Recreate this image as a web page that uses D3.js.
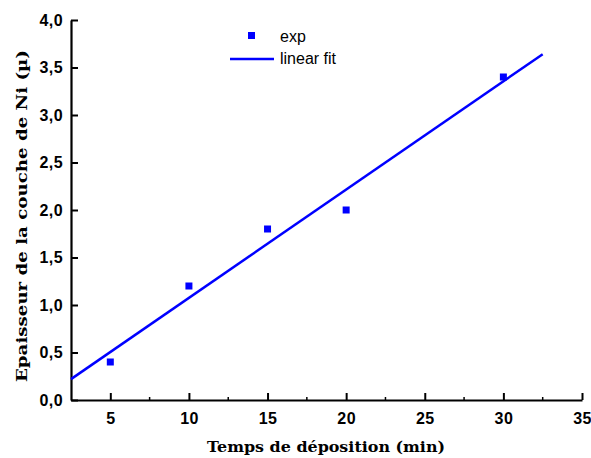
<!DOCTYPE html>
<html>
<head>
<meta charset="utf-8">
<script src="https://cdn.jsdelivr.net/npm/d3@7"></script>
<style>
  body { margin: 0; background: #fff; }
  svg { display: block; }
</style>
</head>
<body>
<svg id="chart"></svg>
<script>
// data
const expX = [5, 10, 15, 20, 30]
const expY = [0.4, 1.2, 1.8, 2.0, 3.4]
const fitX = [2.5, 32.5]
const fitY = [0.22, 3.64]
const xTicks = [5, 10, 15, 20, 25, 30, 35]
const xMinor = [7.5, 12.5, 17.5, 22.5, 27.5, 32.5]
const yTicks = [0, 0.5, 1, 1.5, 2, 2.5, 3, 3.5, 4]

const W = 591, H = 458
const margin = { top: 20, right: 9, bottom: 58, left: 71 }
const width = W - margin.left - margin.right
const height = H - margin.top - margin.bottom

const svg = d3.select('#chart')
    .attr('width', W)
    .attr('height', H)
const g = svg.append('g')
    .attr('transform', `translate(${margin.left},${margin.top})`)

const xscl = d3.scaleLinear().domain([2.5, 35]).range([0, width])
const yscl = d3.scaleLinear().domain([0, 4]).range([height, 0])

const comma = d => d3.format('.1f')(d).replace('.', ',')
const tickFont = "'Liberation Sans', Arial, sans-serif"

// x axis (ticks inward)
const xAxis = d3.axisBottom(xscl)
    .tickValues(xTicks)
    .tickSizeInner(-7)
    .tickSizeOuter(0)
    .tickPadding(13)
g.append('g')
    .attr('class', 'xaxis')
    .attr('transform', `translate(0,${height})`)
    .call(xAxis)

g.append('g')
    .attr('transform', `translate(0,${height})`)
    .selectAll('line')
    .data(xMinor)
    .enter().append('line')
    .attr('x1', d => xscl(d)).attr('x2', d => xscl(d))
    .attr('y1', 0).attr('y2', -3)
    .attr('stroke', '#000').attr('stroke-width', 1.5)

// y axis
const yAxis = d3.axisLeft(yscl)
    .tickValues(yTicks)
    .tickFormat(comma)
    .tickSizeInner(-7)
    .tickSizeOuter(0)
    .tickPadding(8)
g.append('g')
    .attr('class', 'yaxis')
    .call(yAxis)

g.selectAll('.xaxis, .yaxis').selectAll('path')
    .attr('stroke', '#000').attr('stroke-width', 2.2)
g.selectAll('.xaxis, .yaxis').selectAll('.tick line')
    .attr('stroke', '#000').attr('stroke-width', 2)
g.selectAll('.xaxis, .yaxis').selectAll('text')
    .style('font-family', tickFont)
    .style('font-weight', 'bold')
    .style('font-size', '16px')
    .style('letter-spacing', '0.4px')
    .attr('fill', '#000')

// fit line
const line = d3.line()
    .x(d => xscl(d[0]))
    .y(d => yscl(d[1]))
g.append('path')
    .datum(d3.zip(fitX, fitY))
    .attr('fill', 'none')
    .attr('stroke', '#0000ff')
    .attr('stroke-width', 2.5)
    .attr('d', line)

// experimental points
const ms = 7
g.selectAll('.dot')
    .data(d3.zip(expX, expY))
    .enter().append('rect')
    .attr('class', 'dot')
    .attr('x', d => xscl(d[0]) - ms / 2)
    .attr('y', d => yscl(d[1]) - ms / 2)
    .attr('width', ms)
    .attr('height', ms)
    .attr('fill', '#0000ff')

// legend
const legend = svg.append('g')
legend.append('rect')
    .attr('x', 248).attr('y', 32).attr('width', ms).attr('height', ms)
    .attr('fill', '#0000ff')
legend.append('line')
    .attr('x1', 230).attr('x2', 274).attr('y1', 59).attr('y2', 59)
    .attr('stroke', '#0000ff').attr('stroke-width', 2.5)
legend.append('text')
    .attr('x', 280).attr('y', 42)
    .text('exp')
legend.append('text')
    .attr('x', 280).attr('y', 64)
    .text('linear fit')
legend.selectAll('text')
    .style('font-family', tickFont)
    .style('font-size', '16px')
    .attr('fill', '#000')

// axis titles
const titleFont = "'DejaVu Serif', serif"
svg.append('text')
    .attr('x', 326)
    .attr('y', 452)
    .attr('text-anchor', 'middle')
    .style('font-family', titleFont)
    .style('font-weight', 'bold')
    .style('font-size', '14px')
    .attr('textLength', 238)
    .attr('lengthAdjust', 'spacingAndGlyphs')
    .text('Temps de déposition (min)')

svg.append('text')
    .attr('transform', `translate(27,216) rotate(-90)`)
    .attr('text-anchor', 'middle')
    .style('font-family', titleFont)
    .style('font-weight', 'bold')
    .style('font-size', '14px')
    .attr('textLength', 332)
    .attr('lengthAdjust', 'spacingAndGlyphs')
    .text('Epaisseur de la couche de Ni (µ)')
</script>
</body>
</html>
